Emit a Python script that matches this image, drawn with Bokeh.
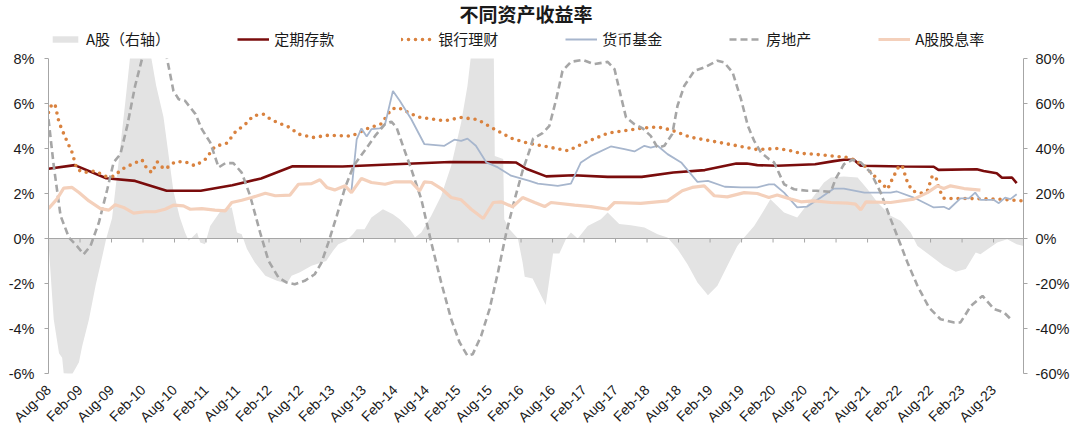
import math
from bokeh.plotting import figure
from bokeh.models import (Range1d, LinearAxis, FixedTicker, PrintfTickFormatter,
                          Legend, LegendItem, ColumnDataSource, Span, Label, BoxAnnotation)
from bokeh.embed import file_html
from bokeh.resources import INLINE

TITLE = "不同资产收益率"
NAMES = ["A股（右轴）", "定期存款", "银行理财", "货币基金", "房地产", "A股股息率"]

# x positions: months since Aug-08
X_TICK_LABELS = ["Aug-08", "Feb-09", "Aug-09", "Feb-10", "Aug-10", "Feb-11", "Aug-11",
                 "Feb-12", "Aug-12", "Feb-13", "Aug-13", "Feb-14", "Aug-14", "Feb-15",
                 "Aug-15", "Feb-16", "Aug-16", "Feb-17", "Aug-17", "Feb-18", "Aug-18",
                 "Feb-19", "Aug-19", "Feb-20", "Aug-20", "Feb-21", "Aug-21", "Feb-22",
                 "Aug-22", "Feb-23", "Aug-23"]
X_TICK_MONTHS = [0, 6, 12, 18, 24, 30, 36, 42, 48, 54, 60, 66, 72, 78, 84, 90, 96, 102,
                 108, 114, 120, 126, 132, 138, 144, 150, 156, 162, 168, 174, 180]

# A股 YoY (right axis, %)
stock_m = [0, 1, 2, 2.6, 2.9, 4.5, 5.8, 6.4, 7.7, 9, 9.9, 11, 12.1, 13.4, 14.6, 15.6, 16.5,
           17.5, 18.7, 19.6, 20.5, 21.9, 23.8, 25, 26, 26.7, 28.3, 28.9, 29.8, 30.8, 33,
           34.9, 35.9, 36.8, 37.8, 39.3, 41.3, 43.5, 45.4, 46.3, 47.9, 50.1, 52.9, 54.2,
           55.2, 56.7, 58, 58.7, 60.2, 61.5, 63.7, 65.6, 66.9, 68.8, 69.8, 71, 72.9, 74.8,
           76.7, 78.6, 79.8, 80.5, 82, 84, 84.8, 85.0, 86.6, 86.8, 87.8, 89.4, 90.3, 90.7,
           92.2, 94.7, 96.1, 97.3, 98.6, 99.5, 100.8, 102.7, 105.2, 106.5, 108.7, 110.9,
           113.5, 116, 117.9, 119.8, 121.7, 123.6, 125.6, 127.4, 129.3, 131.2, 132.5, 134.4,
           136, 137.5, 140.1, 142.6, 145.8, 147.7, 149, 151.5, 154.1, 156, 157.9, 160.4,
           162.3, 164.2, 165.5, 168, 170.5, 172.8, 174.7, 176.6, 177.5, 180.7, 182.6,
           184.4, 185.7]
stock_v = [-2, -36, -51, -53, -60, -60.4, -55, -48, -36, -20.6, -11.6, 0, 9, 35, 60,
           82, 95, 100, 95, 80, 68, 54, 21, 9.5, 2.7, -1, 2.7, -1.8, -2.5, 5.6, 13,
           13.8, 2.7, 1.9, -4.7, -10.7, -16.6, -18.8, -20.1, -16.6, -15, -12.1, -10, -5.4,
           -2.5, -1, 2, 4.1, 4.1, 9.3, 13, 10.8, 8.6, 4.1, 0.4, 2.7, 10.1, 19, 32.3, 51.6,
           67.9, 82, 95, 95, 85, 36.7, 35.3, 8.6, 4.1, 0, -10.7, -17, -17.8, -29.6, -6.7,
           -6.7, 0, 2.7, 0, 5.6, 8.6, 11.6, 6.4, 5.9, 4.9, 1.9, 0.4, -4.7, -11.4, -19.6,
           -25.2, -21, -12.1, -3.3, 0.4, 5.6, 11.6, 17.5, 11.6, 9.3, 19, 24.9, 27.1, 27.6,
           27.1, 21.9, 16, 10.1, 7.9, 2.7, -3.3, -7.7, -12.1, -14.8, -13.6, -6.2, -7, -1.8,
           -0.3, -2.5, -3.3]

# 定期存款 (%)
deposit_m = [0, 5, 11, 16.5, 22.5, 29, 35, 40.5, 46.5, 56, 66, 76.5, 89, 91, 94.8, 100,
             106.5, 113, 119, 125, 131, 133, 135, 138.8, 146, 149.6, 151.5, 153.4, 154.7,
             163, 168.6, 169.5, 176.8, 178.1, 180.6, 181.6, 183.5, 184.4]
deposit_v = [3.1, 3.26, 2.68, 2.56, 2.12, 2.12, 2.37, 2.67, 3.21, 3.2, 3.3, 3.4, 3.38, 3.1,
             2.76, 2.81, 2.74, 2.74, 2.93, 3.04, 3.33, 3.33, 3.26, 3.23, 3.30, 3.44, 3.5,
             3.5, 3.23, 3.2, 3.19, 3.05, 3.08, 3.0, 2.9, 2.7, 2.71, 2.46]

# 银行理财 (%)
wealth_m = [0, 0.7, 1.3, 2, 3.2, 4.5, 5.4, 6.7, 8.9, 10.8, 12.4, 14, 15.9, 17.8, 18.8, 19.7,
            20.7, 21.3, 22.2, 24.1, 26, 27.9, 29.8, 31.7, 34, 35.6, 37.5, 39, 40.9, 42.5,
            44.4, 46, 47.6, 50.4, 53.3, 57.7, 60.9, 63.4, 65.3, 66.6, 70.4, 75.4, 78.6,
            81.8, 85, 88.2, 91.6, 94.5, 98.9, 102.1, 106.5, 109.7, 112.8, 116, 118.6,
            122.3, 126.1, 131.2, 135, 138.8, 141.4, 143.3, 145.8, 149, 152.2, 153.4, 155.4,
            157.9, 159.8, 160.7, 162, 162.6, 163.6, 164.5, 166.1, 167.4, 168.3, 169, 169.6,
            170.6, 174.4, 180.7, 185.5]
wealth_v = [5.6, 6.0, 5.9, 5.16, 4.49, 3.82, 3.08, 2.93, 3.0, 2.76, 2.76, 3.08, 3.3, 3.5,
            3.08, 2.93, 3.41, 3.23, 3.08, 3.41, 3.41, 3.23, 3.5, 4.09, 4.24, 4.74, 5.08,
            5.45, 5.53, 5.27, 5.08, 4.93, 4.64, 4.49, 4.59, 4.55, 4.9, 5.1, 5.75, 5.82, 5.4,
            5.23, 5.38, 5.28, 4.85, 4.45, 4.22, 4.1, 3.9, 4.25, 4.68, 4.79, 4.9, 4.96, 4.82,
            4.5, 4.34, 4.12, 3.95, 4.0, 3.9, 3.78, 3.75, 3.67, 3.6, 3.5, 3.23, 2.64, 2.19,
            2.64, 3.23, 3.23, 2.49, 2.12, 2.01, 2.12, 2.76, 2.76, 2.19, 1.78, 1.78, 1.75,
            1.67]

# 货币基金 (%)
mmf_m = [57.7, 58.7, 59.6, 60.6, 61.5, 63.1, 64.1, 65.6, 66.9, 69.1, 71.6, 75.4, 77.3, 78.6,
         79.8, 81.4, 83.4, 85.6, 88.1, 91.6, 93.2, 97, 99.5, 101.4, 103.3, 107.1, 109.7,
         111.6, 113.5, 114.7, 116, 117.9, 120.5, 123.6, 125.6, 128.8, 131.9, 135, 137.2,
         138.2, 140.1, 142.6, 144.5, 147.1, 149.6, 151.5, 155.4, 160.4, 161.6, 164.8,
         168.6, 170.5, 171.5, 173.7, 175.3, 176.5, 177.5, 180, 181, 182.2, 183.2, 184.4]
mmf_v = [2.12, 4.41, 4.89, 4.53, 4.86, 4.89, 5.08, 6.56, 6.12, 5.3, 4.19, 4.12, 4.39, 4.34,
         4.44, 4.12, 3.38, 3.16, 2.79, 2.56, 2.44, 2.34, 2.44, 3.38, 3.67, 4.09, 3.97, 3.87,
         4.12, 4.04, 4.12, 3.75, 3.38, 2.52, 2.56, 2.30, 2.27, 2.27, 2.41, 2.41, 2.04, 1.38,
         1.42, 1.82, 2.22, 2.22, 2.04, 2.04, 2.09, 1.82, 1.38, 1.41, 1.30, 1.78, 1.78, 2.04,
         1.72, 1.72, 1.57, 1.82, 1.75, 1.97]

# 房地产 (right axis, %)
estate_m = [0, 1, 2.3, 3.9, 5.4, 6.7, 8, 9.6, 11.2, 12.4, 13.7, 15, 16.5, 17.8, 19, 20.2,
            21.4, 22.6, 23.8, 24.8, 26, 28, 29.2, 30.8, 32.4, 33.7, 35.2, 36.8, 38.4, 40.3,
            41.9, 43.8, 45.4, 46.9, 48.8, 50.7, 52, 53.3, 54.9, 56.5, 58.1, 60.2, 62.2, 64.1,
            65.3, 66.3, 67.5, 69.1, 71, 72.9, 74.8, 76.7, 78.3, 79.8, 80.8, 82.4, 84, 85.6,
            87.2, 88.8, 90.3, 91.6, 92.3, 94.1, 95.4, 96.7, 97.9, 99.5, 101.7, 103.9, 106.5,
            107.8, 109, 110, 111.6, 113.2, 114.7, 116, 117.3, 118.8, 119.8, 121.1, 123,
            124.9, 127.4, 128.7, 130.3, 131.9, 133.2, 134.4, 135.7, 137.2, 138.2, 140.1, 142,
            144.5, 146.4, 149, 149.9, 151.5, 153.1, 154.7, 156.6, 158.5, 160.4, 162, 163.6,
            165.5, 167.7, 169.9, 172.5, 173.7, 175.7, 177.9, 180.1, 182, 183.6]
estate_v = [53, 32.3, 10.1, 0.4, -3.3, -7.0, -3.3, 7.1, 21.9, 33.8, 37.5, 50.1, 67.9, 79.7,
            89, 93, 89, 79.7, 65.6, 61.9, 61.2, 55.3, 48.6, 42.7, 31.6, 33.5, 33.5, 29.3,
            19.0, 2.7, -9.9, -17.3, -19.6, -20.3, -18.8, -15.9, -10.7, -1.8, 10.1, 22.7,
            32.3, 39, 45.6, 50.8, 51.9, 49.3, 41.2, 30.8, 17.5, -1.8, -19.6, -35.9, -46.2,
            -52.1, -51.4, -43.3, -31.4, -15.1, 2.7, 17.5, 30.1, 39, 44.4, 46.8, 50.1, 61.9,
            74.5, 78.5, 79.4, 77.5, 78.5, 75.3, 63.4, 53.8, 50.8, 48.9, 45.6, 40.4, 41.2,
            46.4, 59, 67.9, 74.5, 76, 79, 78.2, 73.8, 61.9, 50.1, 43.4, 38.2, 35.3, 33.8,
            24.1, 21.9, 21.2, 21.2, 20.7, 26.4, 33, 35, 33.8, 29.3, 20.4, 8.6, -1, -10.7,
            -21, -30.7, -35.9, -37.3, -37.3, -29.9, -25.5, -31.4, -32.9, -36.6]

# A股股息率 (%)
div_m = [0, 1.6, 2.9, 4.5, 5.8, 7.7, 9.9, 11.5, 12.7, 14.3, 16.2, 18.4, 20.3, 22.2, 23.8,
         25.7, 27, 29.2, 31.7, 33.7, 34.9, 36.8, 38.7, 41.3, 43.2, 46, 47.6, 50.1, 51.7, 53,
         54.5, 56.5, 57.7, 59.6, 61.5, 64.1, 66, 69.1, 70.7, 71.6, 72.9, 74.8, 76.7, 78.6,
         80.5, 82.8, 84.7, 86.2, 88.4, 90.3, 92.6, 94.5, 95.7, 100.2, 103.3, 106.5, 107.8,
         112.8, 117.9, 120.7, 122.6, 124.9, 126.8, 129.3, 132.5, 135, 137.2, 138.8, 141.4,
         143.3, 145.8, 149, 152.2, 153.7, 154.7, 155.7, 160.4, 164.8, 167.4, 169.3, 170.5,
         171.8, 174.4, 177.5]
div_v = [1.33, 1.75, 2.24, 2.27, 2.04, 1.67, 1.33, 1.26, 1.50, 1.38, 1.13, 1.19, 1.19, 1.30,
         1.48, 1.45, 1.30, 1.33, 1.26, 1.23, 1.6, 1.70, 1.82, 2.01, 1.90, 1.93, 2.41, 2.44,
         2.61, 2.27, 2.16, 2.34, 2.04, 2.67, 2.49, 2.41, 2.52, 2.52, 2.12, 2.52, 2.49, 2.22,
         1.82, 1.72, 1.30, 0.89, 1.6, 1.63, 1.41, 1.82, 1.60, 1.42, 1.60, 1.48, 1.42, 1.30,
         1.60, 1.56, 1.67, 2.12, 2.27, 2.34, 1.90, 1.85, 2.04, 2.0, 1.82, 1.93, 1.75, 1.63,
         1.67, 1.6, 1.57, 1.53, 1.27, 1.63, 1.6, 1.75, 2.04, 2.34, 2.22, 2.34, 2.22, 2.15]

for a, b in [(stock_m, stock_v), (deposit_m, deposit_v), (wealth_m, wealth_v),
             (mmf_m, mmf_v), (estate_m, estate_v), (div_m, div_v)]:
    assert len(a) == len(b), (len(a), len(b))

LATIN = "Liberation Sans"
CJK = "Noto Sans CJK SC"
AXIS_GRAY = "#a6a6a6"
TEXT = "#1a1a1a"

# layout (pixels): frame spans the whole top so title/legend sit inside it
W, H = 1072, 434
BL, BR, BB = 48, W - 1025, H - 373
FRAME_H = H - BB            # 373 px, top of frame at y=0
PLOT_TOP = 58               # pixel row of the 8% / 80% line
PX_PER_UNIT = (373 - PLOT_TOP) / 14.0
LEFT_TOP = 8 + PLOT_TOP / PX_PER_UNIT
RIGHT_TOP = 80 + PLOT_TOP / PX_PER_UNIT * 10

p = figure(width=W, height=H, output_backend="svg", toolbar_location=None,
           x_range=Range1d(0, 185.7), y_range=Range1d(-6, LEFT_TOP),
           min_border_left=BL, min_border_right=BR, min_border_top=0, min_border_bottom=BB)
p.extra_y_ranges = {"right": Range1d(-60, RIGHT_TOP)}
p.outline_line_color = None
p.grid.visible = False
p.background_fill_color = "white"
p.title.visible = False

# left axis
ya = p.yaxis[0]
ya.ticker = FixedTicker(ticks=list(range(-6, 9, 2)))
ya.formatter = PrintfTickFormatter(format="%d%%")
ya.bounds = (-6, 8)
ya.axis_line_color = AXIS_GRAY
ya.major_tick_line_color = AXIS_GRAY
ya.major_tick_in = 0
ya.major_tick_out = 4
ya.minor_tick_line_color = None
ya.major_label_text_font = LATIN
ya.major_label_text_font_size = "14.5px"
ya.major_label_text_color = TEXT
ya.major_label_standoff = 10

# right axis
ra = LinearAxis(y_range_name="right", ticker=FixedTicker(ticks=list(range(-60, 81, 20))),
                formatter=PrintfTickFormatter(format="%d%%"), bounds=(-60, 80))
ra.axis_line_color = AXIS_GRAY
ra.major_tick_line_color = AXIS_GRAY
ra.major_tick_in = 0
ra.major_tick_out = 4
ra.minor_tick_line_color = None
ra.major_label_text_font = LATIN
ra.major_label_text_font_size = "14.5px"
ra.major_label_text_color = TEXT
ra.major_label_standoff = 8
p.add_layout(ra, "right")

# bottom axis: labels only
xa = p.xaxis[0]
xa.ticker = FixedTicker(ticks=X_TICK_MONTHS)
xa.major_label_overrides = {m: lab for m, lab in zip(X_TICK_MONTHS, X_TICK_LABELS)}
xa.axis_line_color = None
xa.major_tick_line_color = None
xa.minor_tick_line_color = None
xa.major_label_orientation = math.pi / 4
xa.major_label_text_font = LATIN
xa.major_label_text_font_size = "14px"
xa.major_label_text_color = TEXT
xa.major_label_standoff = 8

src_stock = ColumnDataSource(dict(x=stock_m, y=stock_v, z=[0] * len(stock_m)))
r_stock = p.varea(x="x", y1="z", y2="y", source=src_stock, y_range_name="right",
                  fill_color="#e3e3e3")

# zero line with small tick marks
p.add_layout(Span(location=0, dimension="width", line_color=AXIS_GRAY, line_width=1.2))
tick_len = 4 / PX_PER_UNIT
p.segment(x0=X_TICK_MONTHS, x1=X_TICK_MONTHS, y0=[0] * len(X_TICK_MONTHS),
          y1=[-tick_len] * len(X_TICK_MONTHS), line_color=AXIS_GRAY, line_width=1)

r_dep = p.line(deposit_m, deposit_v, line_color="#7a0c0c", line_width=2.6)
r_wealth = p.line(wealth_m, wealth_v, line_color="#d9823f", line_width=3.6,
                  line_dash="0 7", line_cap="round")
r_mmf = p.line(mmf_m, mmf_v, line_color="#a7b6cd", line_width=1.8)
r_est = p.line(estate_m, estate_v, y_range_name="right", line_color="#a6a6a6",
               line_width=2.6, line_dash="7 4")
r_div = p.line(div_m, div_v, line_color="#f4d0bb", line_width=3.2)

# mask everything above the 8% line (the chart area ends there)
p.add_layout(BoxAnnotation(bottom=8, fill_color="white", fill_alpha=1, line_color=None))

legend = Legend(items=[LegendItem(label=NAMES[0], renderers=[r_stock]),
                       LegendItem(label=NAMES[1], renderers=[r_dep]),
                       LegendItem(label=NAMES[2], renderers=[r_wealth]),
                       LegendItem(label=NAMES[3], renderers=[r_mmf]),
                       LegendItem(label=NAMES[4], renderers=[r_est]),
                       LegendItem(label=NAMES[5], renderers=[r_div])],
                orientation="horizontal", location=(1, FRAME_H - 49), spacing=67,
                glyph_width=32, glyph_height=8, label_standoff=5, label_height=20,
                padding=3, margin=0, border_line_color=None, background_fill_alpha=0,
                label_text_font=CJK, label_text_font_size="15px", label_text_color=TEXT)
p.add_layout(legend, "center")

title = Label(x=411, y=FRAME_H - 13, x_units="screen", y_units="screen", text=TITLE,
              text_font=CJK, text_font_style="bold", text_font_size="19px",
              text_color=TEXT, text_baseline="middle", text_align="left")
p.add_layout(title)

open("out.html", "w").write(file_html(p, INLINE))
